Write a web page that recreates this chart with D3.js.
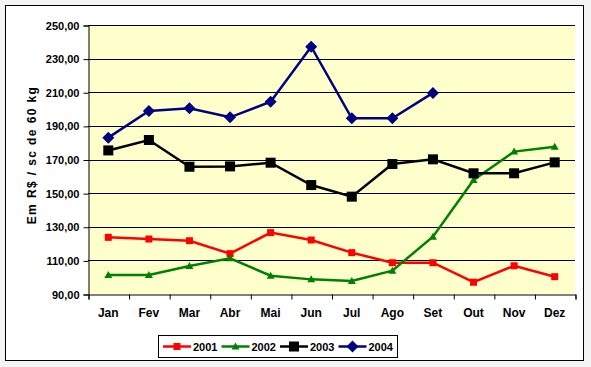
<!DOCTYPE html>
<html>
<head>
<meta charset="utf-8">
<script src="https://cdn.jsdelivr.net/npm/d3@7"></script>
<style>
  body { margin: 0; background: #f4f4f4; }
  svg { display: block; font-family: "Liberation Sans", Arial, sans-serif; font-weight: bold; }
</style>
</head>
<body>
<div id="chart"></div>
<script>
// chart data
const months = ["Jan", "Fev", "Mar", "Abr", "Mai", "Jun", "Jul", "Ago", "Set", "Out", "Nov", "Dez"]
const yTicks = [90, 110, 130, 150, 170, 190, 210, 230, 250]
const years = ["2001", "2002", "2003", "2004"]
const colors = ["#ff0000", "#008000", "#000000", "#000080"]
const s2001 = [123.7, 122.7, 121.7, 114.0, 126.5, 122.1, 114.6, 108.6, 108.6, 97.0, 106.8, 100.3]
const s2002 = [101.3, 101.3, 106.7, 111.2, 100.9, 98.7, 97.7, 103.9, 124.1, 157.8, 174.7, 177.6]
const s2003 = [175.4, 181.6, 165.7, 165.9, 168.1, 154.8, 147.9, 167.3, 170.1, 161.8, 161.8, 168.3]
const s2004 = [183.0, 198.9, 200.5, 195.1, 204.4, 237.1, 194.5, 194.5, 209.6, null, null, null]
const allSeries = [s2001, s2002, s2003, s2004]

const width = 591
const height = 367
const plot = { left: 88, right: 575, top: 25, bottom: 294 }
const numFormat = d3.format(".2f")

const svg = d3.select('#chart')
  .append('svg')
  .attr('width', width)
  .attr('height', height)

// chart frame
svg.append('rect')
  .attr('x', 5.5).attr('y', 5.5)
  .attr('width', 578).attr('height', 355)
  .attr('fill', 'white')
  .attr('stroke', 'black')

svg.append('rect')
  .attr('x', plot.left).attr('y', plot.top)
  .attr('width', plot.right - plot.left).attr('height', plot.bottom - plot.top)
  .attr('fill', '#ffffcc')

const xScale = d3.scaleBand()
  .domain(months)
  .range([plot.left, plot.right])

const yScale = d3.scaleLinear()
  .domain([90, 250])
  .range([plot.bottom, plot.top])

// gridlines
svg.append('g')
  .selectAll('line')
  .data(yTicks.slice(1))
  .enter()
  .append('line')
  .attr('x1', plot.left).attr('x2', plot.right)
  .attr('y1', d => Math.round(yScale(d)) + 0.5)
  .attr('y2', d => Math.round(yScale(d)) + 0.5)
  .attr('stroke', 'black')

// axes
const yAxis = d3.axisLeft(yScale)
  .tickValues(yTicks)
  .tickFormat(d => numFormat(d).replace('.', ','))
  .tickSizeOuter(0)
  .tickSize(5)
  .tickPadding(4)

const xAxis = d3.axisBottom(d3.scaleLinear().domain([0, 12]).range([plot.left, plot.right]))
  .tickValues(d3.range(13))
  .tickFormat('')
  .tickSizeOuter(0)
  .tickSize(5)

svg.append('g')
  .attr('transform', 'translate(' + (plot.left + 0.5) + ',0.5)')
  .call(yAxis)
  .call(g => g.selectAll('text').attr('font-size', 11).attr('font-family', 'Liberation Sans, Arial').attr('font-weight', 'bold').attr('fill', 'black'))

svg.append('g')
  .attr('transform', 'translate(0.5,' + (plot.bottom + 0.5) + ')')
  .call(xAxis)

svg.append('g')
  .selectAll('text')
  .data(months)
  .enter()
  .append('text')
  .attr('x', d => xScale(d) + xScale.bandwidth() / 2)
  .attr('y', 317)
  .attr('text-anchor', 'middle')
  .attr('font-size', 12)
  .text(d => d)

svg.append('text')
  .attr('transform', 'translate(36,155) rotate(-90)')
  .attr('text-anchor', 'middle')
  .attr('font-size', 12)
  .attr('letter-spacing', 1.4)
  .text('Em R$ / sc de 60 kg')

// lines and markers
const line = d3.line()
  .defined(d => d != null)
  .x((d, i) => xScale(months[i]) + xScale.bandwidth() / 2)
  .y(d => yScale(d))

const drawMarker = function (g, k, x, y) {
  if (k === 0) {
    g.append('rect').attr('x', x - 3.5).attr('y', y - 3.5).attr('width', 7).attr('height', 7).attr('fill', colors[k])
  } else if (k === 1) {
    g.append('path').attr('d', 'M' + x + ',' + (y - 4) + 'L' + (x + 4) + ',' + (y + 3) + 'L' + (x - 4) + ',' + (y + 3) + 'Z').attr('fill', colors[k])
  } else if (k === 2) {
    g.append('rect').attr('x', x - 5).attr('y', y - 5).attr('width', 10).attr('height', 10).attr('fill', colors[k])
  } else {
    g.append('path').attr('d', 'M' + x + ',' + (y - 6) + 'L' + (x + 6) + ',' + y + 'L' + x + ',' + (y + 6) + 'L' + (x - 6) + ',' + y + 'Z').attr('fill', colors[k])
  }
}

allSeries.forEach((s, k) => {
  const g = svg.append('g')
  g.append('path')
    .datum(s)
    .attr('d', line)
    .attr('fill', 'none')
    .attr('stroke', colors[k])
    .attr('stroke-width', 2.5)
  s.forEach((v, i) => {
    if (v == null) return
    drawMarker(g, k, xScale(months[i]) + xScale.bandwidth() / 2, yScale(v))
  })
})

// legend
const legend = svg.append('g')
legend.append('rect')
  .attr('x', 158.5).attr('y', 335.5)
  .attr('width', 239).attr('height', 22)
  .attr('fill', 'white').attr('stroke', 'black')

const legendX = d3.scaleLinear().domain([0, 4]).range([163, 397])
years.forEach((yr, k) => {
  const x0 = legendX(k)
  const g = legend.append('g')
  g.append('line')
    .attr('x1', x0).attr('x2', x0 + 28)
    .attr('y1', 346.5).attr('y2', 346.5)
    .attr('stroke', colors[k]).attr('stroke-width', 2.5)
  drawMarker(g, k, x0 + 14, 346.5)
  g.append('text')
    .attr('x', x0 + 30)
    .attr('y', 350.5)
    .attr('font-size', 11)
    .text(yr)
})
</script>
</body>
</html>
